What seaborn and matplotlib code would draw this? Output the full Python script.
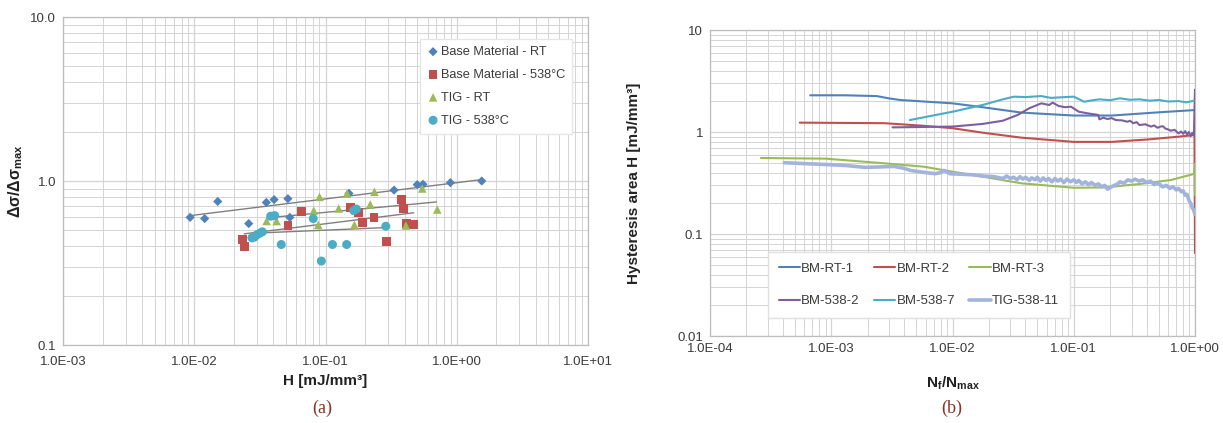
import numpy as np
import pandas as pd
import matplotlib
matplotlib.use("Agg")
import matplotlib.pyplot as plt
from matplotlib.ticker import LogLocator, FuncFormatter, NullFormatter
import seaborn as sns

# ---------------- data: panel (a) ----------------
bm_rt_x = [0.0093, 0.012, 0.0151, 0.026, 0.0354, 0.0406, 0.0517, 0.0535, 0.151, 0.333, 0.50, 0.553, 0.895, 1.55]
bm_rt_y = [0.60, 0.59, 0.75, 0.55, 0.74, 0.77, 0.78, 0.60, 0.84, 0.88, 0.95, 0.955, 0.977, 1.0]

bm_538_x = [0.0233, 0.0243, 0.0517, 0.0658, 0.154, 0.179, 0.192, 0.234, 0.292, 0.380, 0.395, 0.415, 0.47]
bm_538_y = [0.44, 0.40, 0.535, 0.65, 0.69, 0.64, 0.56, 0.60, 0.43, 0.77, 0.68, 0.55, 0.545]

tig_rt_x = [0.0356, 0.0424, 0.0813, 0.090, 0.088, 0.126, 0.146, 0.166, 0.219, 0.236, 0.41, 0.546, 0.71]
tig_rt_y = [0.57, 0.57, 0.66, 0.80, 0.54, 0.68, 0.84, 0.54, 0.72, 0.86, 0.535, 0.90, 0.67]

tig_538_x = [0.0275, 0.0288, 0.030, 0.0315, 0.033, 0.0382, 0.041, 0.046, 0.0807, 0.093, 0.113, 0.145, 0.164, 0.172, 0.288]
tig_538_y = [0.45, 0.455, 0.47, 0.48, 0.49, 0.61, 0.615, 0.41, 0.59, 0.325, 0.41, 0.41, 0.66, 0.675, 0.53]

# trend lines (start/end values)
trend_x0 = [0.0093, 0.039, 0.024, 0.0275]
trend_y0 = [0.615, 0.60, 0.476, 0.48]
trend_x1 = [1.55, 0.70, 0.47, 0.288]
trend_y1 = [1.02, 0.745, 0.64, 0.52]

# ---------------- data: panel (b) ----------------
rt1_x = [6.7e-4, 1.3e-3, 2.37e-3, 2.96e-3, 3.7e-3, 0.01, 0.0177, 0.037, 0.1, 0.206, 0.505, 0.986]
rt1_y = [2.29, 2.29, 2.25, 2.14, 2.06, 1.91, 1.75, 1.55, 1.45, 1.45, 1.56, 1.64]

rt2_x = [5.5e-4, 2.75e-3, 5.8e-3, 0.01, 0.0177, 0.037, 0.1, 0.206, 0.434, 0.73, 0.99, 1.0]
rt2_y = [1.235, 1.22, 1.15, 1.09, 0.985, 0.88, 0.80, 0.80, 0.85, 0.90, 0.935, 0.065]

rt3_x = [2.63e-4, 9e-4, 2.75e-3, 5.8e-3, 0.01, 0.0177, 0.037, 0.1, 0.178, 0.348, 0.63, 0.98, 1.0, 1.0]
rt3_y = [0.556, 0.548, 0.493, 0.457, 0.408, 0.365, 0.314, 0.284, 0.286, 0.309, 0.338, 0.388, 0.49, 0.24]

b5382_x = [3.2e-3, 0.01, 0.0177, 0.026, 0.0345, 0.043, 0.054, 0.0627, 0.067, 0.075, 0.0846, 0.095, 0.11, 0.132,
           0.159, 0.163, 0.175, 0.19, 0.205, 0.222, 0.25, 0.278, 0.29, 0.31, 0.33, 0.348, 0.39, 0.434, 0.46,
           0.49, 0.52, 0.543, 0.57, 0.6, 0.63, 0.68, 0.73, 0.77, 0.8, 0.83, 0.86, 0.89, 0.92, 0.95, 0.98, 1.0, 1.0]
b5382_y = [1.11, 1.13, 1.20, 1.29, 1.47, 1.71, 1.91, 1.84, 1.94, 1.80, 1.75, 1.77, 1.58, 1.52,
           1.47, 1.33, 1.38, 1.34, 1.37, 1.31, 1.30, 1.26, 1.29, 1.22, 1.25, 1.17, 1.19, 1.13, 1.16,
           1.10, 1.13, 1.14, 1.08, 1.06, 1.03, 1.05, 0.97, 1.01, 0.96, 1.02, 0.95, 1.0, 0.91, 0.98, 0.93, 2.6, 0.9]

b5387_x = [4.45e-3, 0.01, 0.0177, 0.026, 0.032, 0.04, 0.054, 0.065, 0.079, 0.1, 0.122, 0.14, 0.163, 0.2,
           0.24, 0.29, 0.348, 0.42, 0.505, 0.6, 0.73, 0.85, 0.98]
b5387_y = [1.31, 1.58, 1.84, 2.09, 2.22, 2.20, 2.25, 2.16, 2.19, 2.22, 1.98, 2.04, 2.09, 2.05,
           2.14, 2.07, 2.09, 2.03, 2.06, 1.99, 2.01, 1.95, 2.03]

tig11_x = [4.1e-4, 6e-4, 9e-4, 1.3e-3, 1.9e-3, 2.6e-3, 3.3e-3, 4.0e-3, 4.5e-3, 5.2e-3, 6.0e-3, 7.2e-3, 8.0e-3,
           8.5e-3, 9.5e-3, 0.012, 0.015, 0.018, 0.022, 0.026, 0.028, 0.030, 0.032, 0.034, 0.036, 0.038, 0.040,
           0.043, 0.045, 0.048, 0.05, 0.053, 0.056, 0.059, 0.062, 0.066, 0.07, 0.074, 0.078, 0.083, 0.088,
           0.094, 0.1, 0.105, 0.11, 0.117, 0.125, 0.132, 0.14, 0.15, 0.16, 0.17, 0.18, 0.19, 0.21, 0.23,
           0.24, 0.26, 0.28, 0.30, 0.32, 0.345, 0.37, 0.40, 0.43, 0.46, 0.5, 0.54, 0.58, 0.62, 0.66, 0.70,
           0.73, 0.77, 0.8, 0.83, 0.86, 0.89, 0.92, 0.95, 0.97, 1.0]
tig11_y = [0.50, 0.49, 0.48, 0.47, 0.45, 0.455, 0.46, 0.44, 0.42, 0.41, 0.40, 0.39, 0.40,
           0.42, 0.39, 0.385, 0.38, 0.37, 0.365, 0.35, 0.37, 0.35, 0.36, 0.34, 0.365, 0.345, 0.36,
           0.335, 0.355, 0.34, 0.36, 0.33, 0.355, 0.335, 0.35, 0.325, 0.35, 0.33, 0.345, 0.32, 0.345,
           0.325, 0.34, 0.32, 0.335, 0.31, 0.325, 0.305, 0.32, 0.30, 0.31, 0.29, 0.30, 0.275, 0.295, 0.31,
           0.325, 0.315, 0.34, 0.33, 0.345, 0.33, 0.34, 0.32, 0.33, 0.305, 0.315, 0.29, 0.30, 0.28, 0.29, 0.27,
           0.28, 0.26, 0.265, 0.24, 0.245, 0.215, 0.20, 0.18, 0.175, 0.155]

# ---------------- style ----------------
sns.set_theme(style="white")
plt.rcParams['font.family'] = ['Liberation Sans', 'DejaVu Sans']
plt.rcParams['mathtext.fontset'] = 'custom'
plt.rcParams['mathtext.rm'] = 'Liberation Sans'
plt.rcParams['mathtext.bf'] = 'Liberation Sans:bold'

C_BLUE, C_RED, C_GREEN = '#4F81BD', '#C0504D', '#9BBB59'
C_PURPLE, C_TEAL, C_LAV = '#7D5FA0', '#4BACC6', '#A3B4DC'
GRID = '#D4D4D4'
TXT = '#3A3A3A'

fig = plt.figure(figsize=(12.23, 4.23), dpi=100)
axa = fig.add_axes([63/1223, 1-345/423, 525/1223, 328/423])
axb = fig.add_axes([710/1223, 1-336/423, 485/1223, 306/423])


def style_log(ax):
    ax.set_xscale('log')
    ax.set_yscale('log')
    for axis in (ax.xaxis, ax.yaxis):
        axis.set_major_locator(LogLocator(base=10))
        axis.set_minor_locator(LogLocator(base=10, subs=np.arange(2, 10)))
        axis.set_minor_formatter(NullFormatter())
    ax.grid(True, which='major', color=GRID, lw=0.9)
    ax.grid(True, which='minor', color=GRID, lw=0.7)
    ax.set_axisbelow(True)
    for s in ax.spines.values():
        s.set_color('#BDBDBD')
        s.set_linewidth(0.9)
    ax.tick_params(which='both', length=0, labelsize=9.5, colors=TXT, pad=5)


# ---------------- panel (a) ----------------
style_log(axa)
axa.tick_params(axis='x', pad=8)
series_a = [
    ('Base Material - RT', bm_rt_x, bm_rt_y, 'D', C_BLUE, 22),
    ('Base Material - 538°C', bm_538_x, bm_538_y, 's', C_RED, 40),
    ('TIG - RT', tig_rt_x, tig_rt_y, '^', C_GREEN, 38),
    ('TIG - 538°C', tig_538_x, tig_538_y, 'o', C_TEAL, 42),
]
for lab, xs, ys, mk, col, sz in series_a:
    df = pd.DataFrame({'x': xs, 'y': ys})
    sns.scatterplot(data=df, x='x', y='y', marker=mk, color=col, s=sz, edgecolor='none',
                    ax=axa, label=lab, zorder=3)
for x0, y0, x1, y1 in zip(trend_x0, trend_y0, trend_x1, trend_y1):
    dft = pd.DataFrame({'x': [x0, x1], 'y': [y0, y1]})
    sns.lineplot(data=dft, x='x', y='y', color='#7F7F7F', lw=1.0, ax=axa, sort=False,
                 estimator=None, legend=False, zorder=2)

axa.set_xlim(1e-3, 1e1)
axa.set_ylim(0.1, 10)
axa.xaxis.set_major_formatter(FuncFormatter(lambda v, p: f"{v:.1E}"))
axa.yaxis.set_major_formatter(FuncFormatter(lambda v, p: f"{v:.1f}"))
axa.set_xlabel('H [mJ/mm³]', fontsize=11, fontweight='bold', color='#222222', labelpad=4)
axa.set_ylabel(r'Δσ/Δσ$_{\mathbf{max}}$', fontsize=11.5, fontweight='bold', color='#222222', labelpad=4)
leg = axa.legend(loc='upper right', bbox_to_anchor=((572-63)/525, 1-(39-17)/328), borderaxespad=0,
                 fontsize=9.2, frameon=True, fancybox=False, edgecolor='#E6E6E6', framealpha=1,
                 labelspacing=0.85, handletextpad=0.1, markerscale=1.0, borderpad=0.55, handlelength=1.0)
for t in leg.get_texts():
    t.set_color(TXT)

# ---------------- panel (b) ----------------
style_log(axb)
series_b = [
    ('BM-RT-1', rt1_x, rt1_y, C_BLUE, 1.5),
    ('BM-RT-2', rt2_x, rt2_y, C_RED, 1.5),
    ('BM-RT-3', rt3_x, rt3_y, C_GREEN, 1.5),
    ('BM-538-2', b5382_x, b5382_y, C_PURPLE, 1.5),
    ('BM-538-7', b5387_x, b5387_y, C_TEAL, 1.5),
    ('TIG-538-11', tig11_x, tig11_y, C_LAV, 2.6),
]
for lab, xs, ys, col, lw in series_b:
    df = pd.DataFrame({'x': xs, 'y': ys})
    sns.lineplot(data=df, x='x', y='y', color=col, lw=lw, ax=axb, label=lab, sort=False,
                 estimator=None, zorder=3)

axb.set_xlim(1e-4, 1e0)
axb.set_ylim(0.01, 10)
axb.xaxis.set_major_formatter(FuncFormatter(lambda v, p: f"{v:.1E}"))
axb.yaxis.set_major_formatter(FuncFormatter(lambda v, p: f"{v:g}"))
axb.set_xlabel(r'N$_{\mathbf{f}}$/N$_{\mathbf{max}}$', fontsize=11, fontweight='bold',
               color='#222222', labelpad=14)
axb.set_ylabel('Hysteresis area H [mJ/mm³]', fontsize=11, fontweight='bold', color='#222222', labelpad=26)
handles, labels = axb.get_legend_handles_labels()
order = [0, 3, 1, 4, 2, 5]
legb = axb.legend([handles[i] for i in order], [labels[i] for i in order],
                  loc='lower left', bbox_to_anchor=((768-710)/485, (336-318)/306), borderaxespad=0,
                  ncol=3, fontsize=9.5, frameon=True, fancybox=False, edgecolor='#E0E0E0', framealpha=1,
                  labelspacing=1.55, handlelength=1.6, handletextpad=0.1, columnspacing=1.1,
                  borderpad=0.8)
for t in legb.get_texts():
    t.set_color(TXT)

# ---------------- captions ----------------
fig.text(322/1223, 1-408/423, '(a)', ha='center', va='center', fontsize=13,
         family=['Liberation Serif', 'DejaVu Serif'], color='#8A3324')
fig.text(952/1223, 1-408/423, '(b)', ha='center', va='center', fontsize=13,
         family=['Liberation Serif', 'DejaVu Serif'], color='#8A3324')

fig.savefig('out.png', dpi=100)
